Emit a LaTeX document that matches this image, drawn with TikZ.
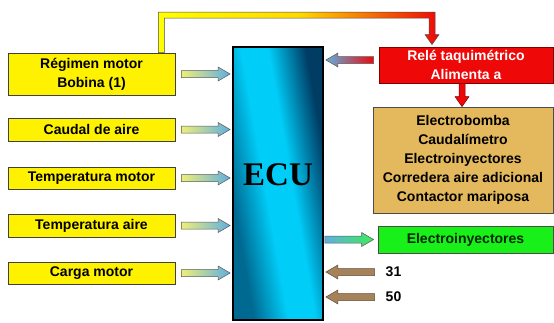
\documentclass[tikz,border=0pt]{standalone}
\usepackage{fontspec}
\setmainfont{Liberation Sans}
\newfontfamily\ecufont{Liberation Serif}
\usetikzlibrary{calc}

\definecolor{ecuL}{RGB}{0,105,145}
\definecolor{ecuM}{RGB}{0,205,248}
\definecolor{ecuR}{RGB}{0,60,100}
\definecolor{tipblue}{RGB}{95,175,225}
\definecolor{tailyel}{RGB}{238,238,120}
\definecolor{tipgreen}{RGB}{60,235,90}
\definecolor{brownarr}{RGB}{165,130,90}
\definecolor{relered}{RGB}{238,8,8}
\definecolor{tanbox}{RGB}{228,184,92}
\definecolor{greenbox}{RGB}{25,240,25}
\pgfdeclarehorizontalshading{ecushade}{100bp}{color(0bp)=(ecuL); color(43bp)=(ecuL);
  color(48bp)=(ecuM); color(52bp)=(ecuM); color(57.5bp)=(ecuR); color(100bp)=(ecuR)}

% horizontal block arrow: [style]{from}{to}
\newcommand{\harrow}[3][]{%
  \path[#1] let \p1=(#2), \p2=(#3), \n1={sign(\x2-\x1)} in
    (\x1,{\y1+3.5pt}) -- ({\x2-\n1*12pt},{\y1+3.5pt}) -- ({\x2-\n1*12pt},{\y1+7pt}) -- (\x2,\y1)
    -- ({\x2-\n1*12pt},{\y1-7pt}) -- ({\x2-\n1*12pt},{\y1-3.5pt}) -- (\x1,{\y1-3.5pt}) -- cycle;}
% vertical block arrow: [style]{from}{to}
\newcommand{\varrow}[3][]{%
  \path[#1] let \p1=(#2), \p2=(#3), \n1={sign(\y2-\y1)} in
    ({\x1-3pt},\y1) -- ({\x1-3pt},{\y2-\n1*10pt}) -- ({\x1-7pt},{\y2-\n1*10pt}) -- (\x1,\y2)
    -- ({\x1+7pt},{\y2-\n1*10pt}) -- ({\x1+3pt},{\y2-\n1*10pt}) -- ({\x1+3pt},\y1) -- cycle;}

\begin{document}
\begin{tikzpicture}[x=1pt, y=-1pt,
    every node/.style={font=\fontsize{14}{19}\selectfont\bfseries, align=center, inner sep=0pt},
    sensor/.style={draw=black!75, fill=yellow, line width=0.8pt, minimum width=167pt},
    inarrow/.style={draw=black!65, line width=0.5pt, left color=tailyel, right color=tipblue},
    feed/.style={draw=black!70, line width=0.5pt, left color=yellow, right color=relered, middle color=yellow!70!orange},
    redarrow/.style={draw=red!45!black, line width=0.5pt, fill=relered},
    brownarrow/.style={draw=brownarr!60!black, line width=0.5pt, fill=brownarr}]
    \useasboundingbox (0,0) rectangle (554,322);

    % Sensors
    \node[sensor, minimum height=42pt] (reg) at (91.5,74) {Régimen motor\\Bobina (1)};
    \node[sensor, minimum height=23pt] (caudal) at (91.5,129.5) {Caudal de aire};
    \node[sensor, minimum height=22pt] (tmot) at (91.5,178) {Temperatura motor};
    \node[sensor, minimum height=23pt] (taire) at (91.5,225.5) {Temperatura aire};
    \node[sensor, minimum height=22pt] (carga) at (91.5,273) {Carga motor};

    % ECU
    \node[draw=black, line width=1.8pt, minimum width=90pt, minimum height=273pt,
          path picture={\shade[shading=ecushade, shading angle=10]
            ($(path picture bounding box.center)+(-170,-170)$) rectangle ++(340,340);}] (ecu) at (278,183.5) {};
    \node[font=\ecufont\fontsize{33}{33}\selectfont\bfseries] (ecutxt) at (278,175) {ECU};

    % Right side
    \node[draw=red!50!black, fill=relered, text=white, line width=0.8pt,
          minimum width=174pt, minimum height=36pt] (rele) at (466,65) {Relé taquimétrico\\Alimenta a};
    \node[draw=black!70, fill=tanbox, line width=0.8pt,
          minimum width=180pt, minimum height=106pt] (alim) at (463,160)
          {Electrobomba\\Caudalímetro\\Electroinyectores\\Corredera aire adicional\\Contactor mariposa};
    \node[draw=black!70, fill=greenbox, text=black!85!green, line width=0.8pt,
          minimum width=175pt, minimum height=27pt] (iny) at (465.5,239.5) {Electroinyectores};
    \node (n31) at (393.5,272) {31};
    \node (n50) at (393.5,297) {50};

    % Arrows into the ECU
    \foreach \s in {reg,caudal,tmot,taire,carga}
      \harrow[inarrow]{$(\s.east)+(6,0)$}{$(ecu.west|-\s.east)+(-2,0)$};
    \harrow[draw=black!65, line width=0.5pt, left color=tipblue, right color=relered]
      {$(rele.west)+(-5,-5)$}{$(ecu.east|-rele.west)+(2,-5)$};
    \harrow[brownarrow]{$(n31.west)+(-11,0)$}{$(ecu.east|-n31.west)+(2,0)$};
    \harrow[brownarrow]{$(n50.west)+(-11,0)$}{$(ecu.east|-n50.west)+(2,0)$};
    % Out of the ECU
    \harrow[draw=black!65, line width=0.5pt, left color=tipblue, right color=tipgreen]
      {$(ecu.east|-iny.west)+(1,0)$}{$(iny.west)+(-4,0)$};

    % Feed line to the relay
    \path[feed] let \p1=($(reg.north east)+(-14,0)$), \p2=($(rele.north)+(-34,-2)$), \p3=(0,15) in
      ({\x1-3pt},\y1) -- ({\x1-3pt},{\y3+3pt}) -- ({\x2+3pt},{\y3+3pt}) -- ({\x2+3pt},{\y2+10pt})
      -- ({\x2+7pt},{\y2+10pt}) -- (\x2,\y2) -- ({\x2-7pt},{\y2+10pt}) -- ({\x2-3pt},{\y2+10pt})
      -- ({\x2-3pt},{\y3-3pt}) -- ({\x1+3pt},{\y3-3pt}) -- ({\x1+3pt},\y1) -- cycle;
    \varrow[redarrow]{$(rele.south)+(-4,0)$}{$(alim.north)+(-1,0)$};
\end{tikzpicture}
\end{document}
